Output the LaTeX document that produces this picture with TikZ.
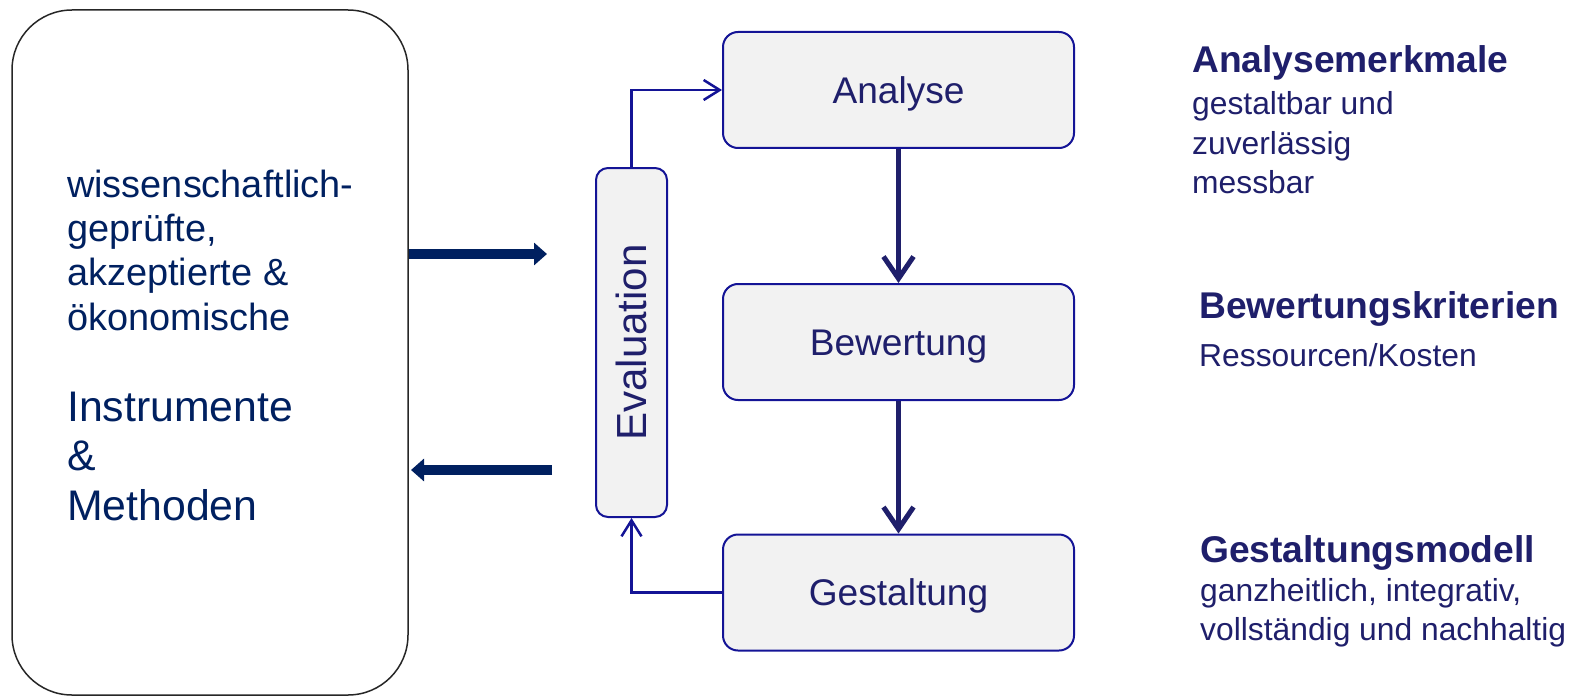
\documentclass[tikz,border=0pt]{standalone}
\usepackage{fontspec}
\setmainfont{Liberation Sans}
\usetikzlibrary{arrows.meta}
\definecolor{navy}{RGB}{31,31,107}
\definecolor{deepnavy}{RGB}{0,32,96}
\definecolor{boxblue}{RGB}{20,20,150}
\definecolor{boxfill}{RGB}{242,242,242}
\begin{document}
\begin{tikzpicture}[x=1pt,y=-1pt,
  stage/.style={draw=boxblue, line width=2pt, fill=boxfill, rounded corners=15pt,
    minimum width=351pt, minimum height=116pt, text=navy,
    font=\fontsize{37.1}{42}\selectfont, text height=26.5pt, text depth=0pt, inner sep=0pt},
  evalbox/.style={draw=boxblue, line width=2pt, fill=boxfill, rounded corners=12pt,
    minimum width=349pt, minimum height=71pt, text=navy, rotate=90,
    font=\fontsize{42.1}{48}\selectfont, text height=30pt, text depth=0pt, inner sep=0pt},
  flow/.style={draw=navy, line width=5pt, -{Straight Barb[length=22pt,width=30pt]}},
  loop/.style={draw=boxblue, line width=2.5pt, -{Straight Barb[length=16pt,width=20pt]}},
  block/.style={draw=deepnavy, line width=10pt, -{Triangle[length=13pt,width=22pt]}},
  lefttext/.style={anchor=base west, align=left, inner sep=0pt, text=deepnavy},
  head/.style={anchor=base west, inner sep=0pt, text=navy, font=\bfseries\fontsize{37.2}{40}\selectfont},
  body/.style={anchor=base west, align=left, inner sep=0pt, text=navy, font=\fontsize{31.8}{39}\selectfont}
]
\useasboundingbox (0,0) rectangle (1579,698);

% left frame
\node[draw=black!85, line width=1.5pt, rounded corners=60pt, minimum width=396pt,
  minimum height=685pt, inner sep=0pt] (frame) at (210,352.5) {};
% multi-line nodes: base anchor = baseline of the last line
\node[lefttext, font=\fontsize{37.9}{44.3}\selectfont] (desc) at (67,330)
  {wissenschaftlich-\\geprüfte,\\akzeptierte \&\\ökonomische};
\node[lefttext, font=\fontsize{42.8}{49.5}\selectfont] (instr) at (67,520)
  {Instrumente\\\&\\Methoden};

% stages
\node[stage] (ana) at (898.5,90) {Analyse};
\node[stage] (bew) at (898.5,342) {Bewertung};
\node[stage] (ges) at (898.5,592.5) {Gestaltung};
\node[evalbox] (eval) at (631.5,342.5) {Evaluation};

% flow arrows
\draw[flow] (ana.south) -- (bew.north);
\draw[flow] (bew.south) -- (ges.north);

% evaluation loop
\draw[loop] (eval.east) |- (ana.west);
\draw[loop] (ges.west) -| (eval.west);

% block arrows
\coordinate (r1start) at (frame.east |- 0,254);
\coordinate (r1end) at (547,254);
\draw[block] (r1start) -- (r1end);
\coordinate (l1start) at (552,470);
\coordinate (l1end) at (411,470);
\draw[block] (l1start) -- (l1end);

% right-hand texts
\node[head] (h1) at (1192,73) {Analysemerkmale};
\node[body] (b1) at (1192,193) {gestaltbar und\\zuverlässig\\messbar};
\node[head] (h2) at (1199,318) {Bewertungskriterien};
\node[body] (b2) at (1199,366.5) {Ressourcen/Kosten};
\node[head] (h3) at (1200,562) {Gestaltungsmodell};
\node[body] (b3) at (1200,640) {ganzheitlich, integrativ,\\vollständig und nachhaltig};
\end{tikzpicture}
\end{document}
